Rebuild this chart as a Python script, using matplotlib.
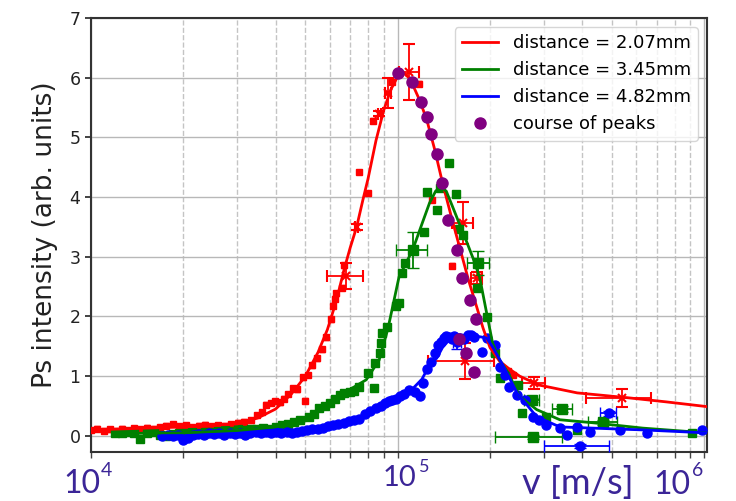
import numpy as np
import matplotlib
matplotlib.use("Agg")
import matplotlib.pyplot as plt

# ---- distance = 2.07 mm (red) ----
red_v = [1.00e4, 1.05e4, 1.10e4, 1.15e4, 1.20e4, 1.26e4, 1.32e4, 1.38e4, 1.45e4, 1.52e4,
         1.60e4, 1.68e4, 1.76e4, 1.85e4, 1.94e4, 2.04e4, 2.14e4, 2.25e4, 2.36e4, 2.48e4,
         2.60e4, 2.73e4, 2.87e4, 3.01e4, 3.16e4, 3.32e4, 3.48e4, 3.60e4, 3.72e4, 3.85e4,
         3.98e4, 4.12e4, 4.26e4, 4.40e4, 4.55e4, 4.70e4, 4.90e4, 5.00e4, 5.10e4, 5.25e4,
         5.45e4, 5.65e4, 5.85e4, 6.05e4, 6.15e4, 6.25e4, 6.30e4, 6.60e4, 6.70e4, 7.50e4,
         8.00e4, 8.30e4, 9.60e4, 1.17e5, 1.29e5, 1.50e5, 2.29e5, 2.37e5]
red_y = [0.10, 0.12, 0.09, 0.11, 0.08, 0.12, 0.10, 0.13, 0.11, 0.14,
         0.12, 0.15, 0.17, 0.20, 0.16, 0.18, 0.15, 0.17, 0.19, 0.16,
         0.18, 0.17, 0.20, 0.22, 0.24, 0.26, 0.35, 0.40, 0.52, 0.55,
         0.58, 0.56, 0.62, 0.70, 0.80, 0.78, 0.98, 0.59, 1.02, 1.18,
         1.30, 1.45, 1.65, 1.95, 2.18, 2.30, 2.39, 2.48, 2.86, 4.42,
         4.07, 5.28, 5.93, 5.90, 3.95, 2.85, 1.08, 1.02]
red_big_v = [6.80e4, 7.35e4, 8.70e4, 9.30e4, 1.09e5, 1.63e5, 1.81e5, 1.66e5, 2.78e5, 5.40e5]
red_big_y = [2.68, 3.50, 5.40, 5.75, 6.10, 3.57, 2.64, 1.25, 0.89, 0.63]
red_big_xerr = [0.09e5, 0.01e5, 0.01e5, 0.02e5, 0.08e5, 0.13e5, 0.08e5, 0.40e5, 0.24e5, 1.28e5]
red_big_yerr = [0.22, 0.05, 0.05, 0.25, 0.47, 0.35, 0.10, 0.30, 0.10, 0.15]
red_fit_v = [1.0e4, 2.0e4, 3.0e4, 3.5e4, 4.0e4, 4.5e4, 5.0e4, 5.5e4, 5.9e4, 6.3e4,
             6.7e4, 7.0e4, 7.35e4, 7.7e4, 8.0e4, 8.5e4, 9.0e4, 9.5e4, 1.0e5, 1.05e5,
             1.1e5, 1.18e5, 1.245e5, 1.32e5, 1.40e5, 1.50e5, 1.60e5, 1.70e5, 1.81e5, 1.90e5,
             2.0e5, 2.15e5, 2.3e5, 2.5e5, 2.9e5, 3.85e5, 5.6e5, 7.5e5, 1.02e6]
red_fit_y = [0.10, 0.15, 0.20, 0.30, 0.45, 0.70, 1.00, 1.40, 1.78, 2.25,
             2.80, 3.15, 3.50, 3.95, 4.30, 4.95, 5.45, 5.80, 6.02, 6.08,
             5.97, 5.62, 5.29, 4.80, 4.24, 3.65, 3.12, 2.62, 2.16, 1.80,
             1.48, 1.25, 1.13, 1.00, 0.85, 0.72, 0.64, 0.57, 0.49]

# ---- distance = 3.45 mm (green) ----
green_v = [1.20e4, 1.26e4, 1.32e4, 1.38e4, 1.45e4, 1.52e4, 1.60e4, 1.68e4, 1.76e4, 1.85e4,
           1.94e4, 2.04e4, 2.14e4, 2.25e4, 2.36e4, 2.48e4, 2.60e4, 2.73e4, 2.87e4, 3.01e4,
           3.16e4, 3.32e4, 3.48e4, 3.65e4, 3.83e4, 4.00e4, 4.20e4, 4.40e4, 4.60e4, 4.80e4,
           5.15e4, 5.35e4, 5.56e4, 5.80e4, 6.00e4, 6.25e4, 6.47e4, 6.70e4, 6.97e4, 7.20e4,
           7.50e4, 7.98e4, 8.40e4, 8.45e4, 8.73e4, 8.85e4, 8.90e4, 9.25e4, 9.90e4, 1.01e5,
           1.03e5, 1.055e5, 1.22e5, 1.25e5, 1.34e5, 1.37e5, 1.47e5, 1.55e5, 1.58e5, 1.63e5,
           1.81e5, 1.95e5, 2.07e5, 2.15e5, 2.47e5, 2.54e5, 3.05e5, 3.85e5, 9.10e5]
green_y = [0.05, 0.04, 0.06, 0.05, -0.05, 0.04, 0.06, 0.02, 0.00, 0.03,
           0.05, 0.04, 0.06, 0.05, 0.07, 0.06, 0.08, 0.10, 0.09, 0.11,
           0.10, 0.12, 0.11, 0.13, 0.12, 0.15, 0.18, 0.20, 0.24, 0.27,
           0.32, 0.36, 0.47, 0.50, 0.55, 0.62, 0.69, 0.72, 0.74, 0.76,
           0.82, 1.05, 0.80, 1.22, 1.39, 1.56, 1.73, 1.83, 2.18, 2.23,
           2.73, 2.90, 3.42, 4.09, 3.79, 4.15, 4.57, 4.05, 3.47, 3.37,
           2.48, 1.99, 1.39, 0.97, 0.85, 0.38, 0.32, 0.10, 0.05]
green_big_v = [1.12e5, 1.83e5, 2.74e5, 2.76e5, 3.44e5, 4.68e5]
green_big_y = [3.12, 2.90, 0.60, -0.02, 0.45, 0.23]
green_big_xerr = [0.13e5, 0.15e5, 0.15e5, 0.68e5, 0.25e5, 0.52e5]
green_big_yerr = [0.30, 0.20, 0.04, 0.03, 0.05, 0.04]
green_fit_v = [1.2e4, 2.0e4, 3.0e4, 4.0e4, 4.8e4, 5.5e4, 6.14e4, 7.0e4, 7.9e4, 8.7e4,
               9.3e4, 1.01e5, 1.12e5, 1.20e5, 1.27e5, 1.33e5, 1.38e5, 1.44e5, 1.51e5, 1.59e5,
               1.67e5, 1.76e5, 1.85e5, 1.95e5, 2.04e5, 2.15e5, 2.29e5, 2.5e5, 2.84e5, 3.38e5,
               4.33e5, 6.3e5, 1.02e6]
green_fit_y = [0.04, 0.05, 0.09, 0.15, 0.27, 0.42, 0.60, 0.78, 0.94, 1.27,
               1.80, 2.66, 3.12, 3.55, 3.90, 4.10, 4.17, 4.10, 3.84, 3.55,
               3.28, 2.98, 2.66, 2.06, 1.55, 1.27, 1.06, 0.66, 0.44, 0.27,
               0.22, 0.13, 0.05]

# ---- distance = 4.82 mm (blue) ----
blue_v = [1.71e4, 1.78e4, 1.85e4, 1.92e4, 1.99e4, 2.07e4, 2.15e4, 2.24e4, 2.33e4, 2.42e4,
          2.52e4, 2.62e4, 2.72e4, 2.83e4, 2.94e4, 3.06e4, 3.18e4, 3.31e4, 3.44e4, 3.58e4,
          3.72e4, 3.87e4, 4.02e4, 4.18e4, 4.35e4, 4.52e4, 4.70e4, 4.88e4, 5.07e4, 5.27e4,
          5.48e4, 5.70e4, 5.93e4, 6.16e4, 6.40e4, 6.66e4, 6.92e4, 7.20e4, 7.50e4, 7.80e4,
          8.10e4, 8.50e4, 8.80e4, 9.10e4, 9.40e4, 9.60e4, 9.90e4, 1.02e5, 1.05e5, 1.09e5,
          1.14e5, 1.18e5, 1.21e5, 1.25e5, 1.28e5, 1.32e5, 1.35e5, 1.38e5, 1.42e5, 1.44e5,
          1.47e5, 1.50e5, 1.53e5, 1.59e5, 1.65e5, 1.70e5, 1.74e5, 1.78e5, 1.88e5, 1.95e5,
          2.07e5, 2.15e5, 2.24e5, 2.31e5, 2.45e5, 2.60e5, 2.76e5, 2.90e5, 3.05e5, 3.38e5,
          3.57e5, 3.85e5, 4.24e5, 5.30e5, 6.50e5, 9.80e5]
blue_y = [0.00, 0.01, -0.01, 0.02, -0.07, -0.03, 0.01, 0.03, 0.02, 0.04,
          0.03, 0.05, 0.02, 0.04, 0.03, 0.05, 0.02, 0.04, 0.06, 0.04,
          0.07, 0.05, 0.06, 0.04, 0.07, 0.05, 0.06, 0.08, 0.10, 0.12,
          0.11, 0.14, 0.17, 0.18, 0.20, 0.22, 0.25, 0.27, 0.29, 0.36,
          0.42, 0.47, 0.50, 0.55, 0.58, 0.60, 0.62, 0.66, 0.70, 0.77,
          0.73, 0.67, 0.89, 1.12, 1.24, 1.39, 1.52, 1.58, 1.64, 1.68,
          1.66, 1.62, 1.67, 1.64, 1.62, 1.69, 1.69, 1.65, 1.41, 1.64,
          1.52, 1.16, 1.02, 0.82, 0.69, 0.60, 0.32, 0.27, 0.18, 0.13,
          0.02, 0.15, 0.07, 0.10, 0.05, 0.10]
blue_big_v = [1.56e5, 3.94e5, 4.87e5]
blue_big_y = [1.58, -0.17, 0.38]
blue_big_xerr = [0.05e5, 0.95e5, 0.30e5]
blue_big_yerr = [0.12, 0.03, 0.04]
blue_fit_v = [1.71e4, 2.0e4, 3.0e4, 4.0e4, 5.0e4, 6.0e4, 7.0e4, 8.0e4, 9.0e4, 1.0e5,
              1.1e5, 1.2e5, 1.25e5, 1.3e5, 1.34e5, 1.40e5, 1.45e5, 1.52e5, 1.60e5, 1.70e5,
              1.81e5, 1.95e5, 2.04e5, 2.2e5, 2.45e5, 2.84e5, 3.38e5, 4.33e5, 6.3e5, 1.02e6]
blue_fit_y = [0.00, 0.00, 0.03, 0.05, 0.08, 0.15, 0.25, 0.38, 0.52, 0.62,
              0.75, 0.95, 1.12, 1.25, 1.30, 1.48, 1.57, 1.65, 1.69, 1.68,
              1.67, 1.64, 1.49, 1.19, 0.72, 0.32, 0.15, 0.13, 0.10, 0.05]

# ---- course of peaks ----
peak_v = [1.00e5, 1.11e5, 1.19e5, 1.25e5, 1.28e5, 1.34e5, 1.40e5, 1.46e5, 1.56e5, 1.62e5,
          1.72e5, 1.80e5, 1.58e5, 1.67e5, 1.78e5]
peak_y = [6.08, 5.92, 5.59, 5.34, 5.05, 4.73, 4.23, 3.62, 3.11, 2.65,
          2.28, 1.96, 1.63, 1.39, 1.07]

fig = plt.figure(figsize=(7.36, 5.01), dpi=100)
ax = fig.add_axes([0.1236, 0.0978, 0.837, 0.8663])
ax.set_xscale("log")

ax.grid(which="major", color="#b8b8b8", lw=1.0)
ax.grid(which="minor", axis="x", color="#c4c4c4", lw=1.0, ls="--")
ax.set_axisbelow(True)

ax.errorbar(red_v, red_y, yerr=0.04, fmt="s", color="red", ms=4.5, capsize=2, elinewidth=1, zorder=3)
ax.errorbar(red_big_v, red_big_y, xerr=red_big_xerr, yerr=red_big_yerr, fmt="x", color="red",
            ms=6, mew=1.5, capsize=4, elinewidth=1.3, zorder=3)
ax.plot(red_fit_v, red_fit_y, color="red", lw=2, label="distance = 2.07mm", zorder=4)

ax.errorbar(green_v, green_y, yerr=0.03, fmt="s", color="green", ms=6, capsize=2, elinewidth=1, zorder=3)
ax.errorbar(green_big_v, green_big_y, xerr=green_big_xerr, yerr=green_big_yerr, fmt="s", color="green",
            ms=6.5, capsize=4, elinewidth=1.3, zorder=3)
ax.plot(green_fit_v, green_fit_y, color="green", lw=2, label="distance = 3.45mm", zorder=4)

ax.errorbar(blue_v, blue_y, yerr=0.03, fmt="o", color="blue", ms=6.5, capsize=2, elinewidth=1, zorder=3)
ax.errorbar(blue_big_v, blue_big_y, xerr=blue_big_xerr, yerr=blue_big_yerr, fmt="o", color="blue",
            ms=6.5, capsize=4, elinewidth=1.3, zorder=3)
ax.plot(blue_fit_v, blue_fit_y, color="blue", lw=2, label="distance = 4.82mm", zorder=4)

ax.plot(peak_v, peak_y, "o", color="purple", ms=8, label="course of peaks", zorder=5)

ax.set_xlim(1e4, 1.02e6)
ax.set_ylim(-0.27, 7)
ax.set_yticks(range(0, 8))
ax.tick_params(axis="y", labelsize=12.5, length=4, width=1.2, colors="#222222")
ax.tick_params(axis="x", which="both", labelbottom=False, length=4, width=1, colors="#444444")
for s in ax.spines.values():
    s.set_color("#333333")
    s.set_linewidth(1.5)
ax.set_ylabel("Ps intensity (arb. units)", fontsize=19, color="#222222", labelpad=8)

leg = ax.legend(loc="upper right", fontsize=13, framealpha=0.8)

# axis labels pasted in below the plot
lab_col = "#3b2597"
fnt = "Lato"
fig.text(63 / 736, 1 - 493 / 501, "10", fontsize=23, color=lab_col, family=fnt)
fig.text(101 / 736, 1 - 476 / 501, "4", fontsize=14, color=lab_col, family=fnt)
fig.text(383 / 736, 1 - 486 / 501, "10", fontsize=21, color=lab_col, family=fnt)
fig.text(419 / 736, 1 - 472 / 501, "5", fontsize=13, color=lab_col, family=fnt)
fig.text(522 / 736, 1 - 494 / 501, "v [m/s]", fontsize=26, color=lab_col, family=fnt)
fig.text(653 / 736, 1 - 494 / 501, "10", fontsize=23, color=lab_col, family=fnt)
fig.text(692 / 736, 1 - 476 / 501, "6", fontsize=14, color=lab_col, family=fnt)

fig.savefig("out.png", dpi=100)
